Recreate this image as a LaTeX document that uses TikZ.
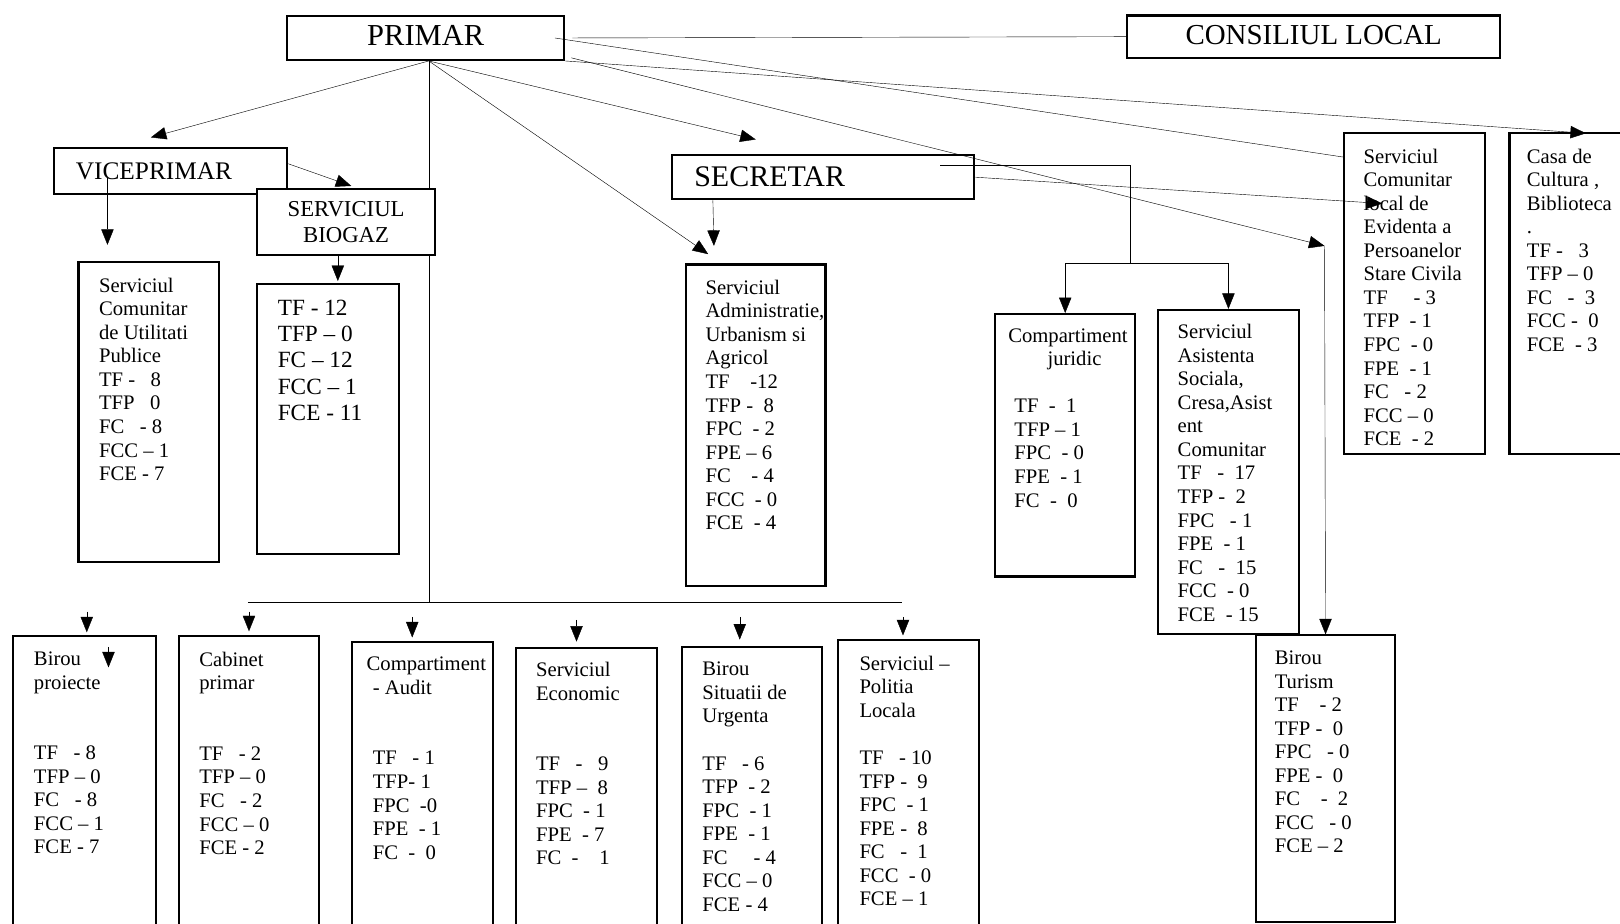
\documentclass[tikz,border=0pt]{standalone}
\usepackage{fontspec}
\setmainfont{Liberation Serif}
\usetikzlibrary{arrows.meta,backgrounds}

\begin{document}
\begin{tikzpicture}[x=1pt,y=-1pt,line width=1.8pt,
    >={Triangle[length=15pt,width=12pt]},
    card/.style={draw,line width=2pt,anchor=north west,inner sep=0pt},
    headbox/.style={card,font=\fontsize{#1}{#1}\selectfont},
    cardtext/.style={anchor=north west,inner sep=0pt,align=left,
      font=\fontsize{20}{22.8}\selectfont}]
  \useasboundingbox (0,0) rectangle (1568,894);
  \clip (0,0) rectangle (1568,894);

  % conducere
  \node[headbox=29.5,minimum width=268pt,minimum height=42.5pt] (primar) at (277,14.5) {\raisebox{5pt}{PRIMAR}};
  \node[headbox=28,minimum width=361pt,minimum height=41pt] (consiliu) at (1090,14) {\raisebox{4pt}{CONSILIUL LOCAL}};
  \node[headbox=24.5,minimum width=226pt,minimum height=45pt] (vice) at (51,142) {\raisebox{-5pt}{VICEPRIMAR}\hspace*{32pt}};
  \node[headbox=29,minimum width=293pt,minimum height=43pt] (secretar) at (649,149) {\raisebox{-10pt}{SECRETAR}\hspace*{103pt}};
  \node[headbox=22,align=center,fill=white,minimum width=172pt,minimum height=64pt,
    font=\fontsize{22}{26}\selectfont] (biogaz) at (248,182) {SERVICIUL\\BIOGAZ};

  % servicii sub viceprimar
  \node[card,minimum width=136pt,minimum height=290pt] (utilitati) at (75,253) {};
  \node[cardtext] (tutilitati) at (95,268) {Serviciul\\Comunitar\\de Utilitati\\Publice\\TF -~~~8\\TFP~~~0\\FC~~~- 8\\FCC – 1\\FCE - 7};
  \node[card,minimum width=137pt,minimum height=261pt] (biodate) at (248,274) {};
  \node[cardtext,font=\fontsize{22.5}{25.4}\selectfont] (tbiodate) at (268,289.5) {TF - 12\\TFP – 0\\FC – 12\\FCC – 1\\FCE - 11};

  % servicii sub secretar
  \node[card,minimum width=135pt,minimum height=311pt] (admin) at (663,255) {};
  \node[cardtext] (tadmin) at (682,270) {Serviciul\\Administratie,\\Urbanism si\\Agricol\\TF~~~~-12\\TFP -~~8\\FPC~~- 2\\FPE – 6\\FC~~~~- 4\\FCC~~- 0\\FCE~~- 4};
  \node[card,minimum width=136pt,minimum height=254pt] (juridic) at (962,303) {};
  \node[cardtext] (tjuridic) at (975,317) {Compartiment\\\hspace*{38pt}juridic\\~\\\hspace*{6pt}TF~~-~~1\\\hspace*{6pt}TFP – 1\\\hspace*{6pt}FPC~~- 0\\\hspace*{6pt}FPE~~- 1\\\hspace*{6pt}FC~~-~~0};
  \node[card,minimum width=136pt,minimum height=314pt] (asistenta) at (1120,299) {};
  \node[cardtext] (tasistenta) at (1139,313) {Serviciul\\Asistenta\\Sociala,\\Cresa,Asist\\ent\\Comunitar\\TF~~~-~~17\\TFP - ~2\\FPC~~~- 1\\FPE~~- 1\\FC~~~-~~15\\FCC~~- 0\\FCE~~- 15};

  % dreapta
  \node[card,minimum width=136pt,minimum height=310pt] (evidenta) at (1300,128) {};
  \node[cardtext] (tevidenta) at (1319,143) {Serviciul\\Comunitar\\local de\\Evidenta a\\Persoanelor\\Stare Civila\\TF~~~~~- 3\\TFP~~- 1\\FPC~~- 0\\FPE~~- 1\\FC~~~- 2\\FCC – 0\\FCE~~- 2};
  \node[card,minimum width=140pt,minimum height=310pt] (casa) at (1460,128) {};
  \node[cardtext] (tcasa) at (1477,143) {Casa de\\Cultura ,\\Biblioteca\\.\\TF -~~~3\\TFP – 0\\FC~~~-~~3\\FCC -~~0\\FCE~~- 3};
  \node[card,minimum width=134pt,minimum height=277pt] (turism) at (1215,614) {};
  \node[cardtext] (tturism) at (1233,629) {Birou\\Turism\\TF~~~~- 2\\TFP -~~0\\FPC~~~- 0\\FPE -~~0\\FC~~~~-~~2\\FCC~~~- 0\\FCE – 2};

  % randul de jos
  \node[card,minimum width=138pt,minimum height=300pt] (proiecte) at (12,615) {};
  \node[cardtext] (tproiecte) at (32,630) {Birou\\proiecte\\~\\~\\TF~~~- 8\\TFP – 0\\FC~~~- 8\\FCC – 1\\FCE - 7};
  \node[card,minimum width=136pt,minimum height=300pt] (cabinet) at (172,615) {};
  \node[cardtext] (tcabinet) at (192,630) {Cabinet\\primar\\~\\~\\TF~~~- 2\\TFP – 0\\FC~~~- 2\\FCC – 0\\FCE - 2};
  \node[card,minimum width=136pt,minimum height=300pt] (audit) at (340,620) {};
  \node[cardtext] (taudit) at (354,635) {Compartiment\\\hspace*{6pt}- Audit\\~\\~\\\hspace*{6pt}TF~~~- 1\\\hspace*{6pt}TFP- 1\\\hspace*{6pt}FPC~~-0\\\hspace*{6pt}FPE~~- 1\\\hspace*{6pt}FC~~-~~0};
  \node[card,minimum width=137pt,minimum height=300pt] (economic) at (498,626) {};
  \node[cardtext] (teconomic) at (518,640) {Serviciul\\Economic\\~\\~\\TF~~~-~~~9\\TFP –~~8\\FPC~~- 1\\FPE~~- 7\\FC~~-~~~~1};
  \node[card,minimum width=136pt,minimum height=300pt] (urgenta) at (659,625) {};
  \node[cardtext] (turgenta) at (679,640) {Birou\\Situatii de\\Urgenta\\~\\TF~~~- 6\\TFP~~- 2\\FPC~~- 1\\FPE~~- 1\\FC~~~~~- 4\\FCC – 0\\FCE - 4};
  \node[card,minimum width=137pt,minimum height=300pt] (politia) at (810,618) {};
  \node[cardtext] (tpolitia) at (831,634) {Serviciul –\\Politia\\Locala\\~\\TF~~~- 10\\TFP -~~9\\FPC~~- 1\\FPE -~~8\\FC~~~-~~1\\FCC~~- 0\\FCE – 1};

  \coordinate (pfoot) at ([xshift=3pt]primar.south);
  \coordinate (tur) at (1282,238);
  \coordinate (split) at (1094,255);
  \coordinate (busl) at (240,583);
  \coordinate (busr) at (873,583);

  \begin{scope}[on background layer]
    \draw ([xshift=7pt]primar.east) to (consiliu.west);
    \draw ([xshift=-10pt]primar.east) to ([yshift=-24pt]evidenta.north west);
    \draw[->] (primar.south east) to ([xshift=75pt,yshift=-1pt]casa.north west);
    \draw[->] ([xshift=6pt,yshift=3pt]primar.south east) to (tur);
    \draw[->] (tur) to (turism.north);
    \draw[->] (pfoot) to ([xshift=-19pt,yshift=9pt]vice.north);
    \draw[->] (pfoot) to ([xshift=-65pt,yshift=14pt]secretar.north);
    \draw[->] (pfoot) to ([xshift=-46pt,yshift=9pt]admin.north);
    \draw (pfoot) to (pfoot |- busl);
    \draw (busl) to (busr);
    \draw[->] ([xshift=-61pt,yshift=-6pt]vice.center) to ([xshift=-40pt,yshift=16pt]utilitati.north);
    \draw[->] ([yshift=7pt]vice.east) to ([xshift=5pt,yshift=2pt]biogaz.north);
    \draw[->] ([xshift=-8pt]biogaz.south) to ([xshift=9.5pt,yshift=2pt]biodate.north);
    \draw[->] ([xshift=41pt]secretar.south west) to ([xshift=-40.5pt,yshift=17pt]admin.north);
    \draw ([xshift=-34pt,yshift=12pt]secretar.east) -| (split);
    \draw[->] (split) -| (juridic.north);
    \draw[->] (split) -| (asistenta.north);
    \draw[->] (secretar.east) to ([xshift=38pt,yshift=-69pt]evidenta.north west);
    \draw[->] ([xshift=2pt,yshift=23pt]proiecte.north) to ([xshift=2pt,yshift=3pt]proiecte.north);
    \draw[->] ([xshift=93pt,yshift=-11pt]proiecte.north west) to ([xshift=93pt,yshift=-31pt]proiecte.north west);
    \draw[->] ([yshift=23pt]cabinet.north) to ([yshift=4pt]cabinet.north);
    \draw[->] ([xshift=-10pt,yshift=23pt]audit.north) to ([xshift=-10pt,yshift=3pt]audit.north);
    \draw[->] ([xshift=-9.5pt,yshift=26pt]economic.north) to ([xshift=-9.5pt,yshift=5pt]economic.north);
    \draw[->] ([xshift=-12pt,yshift=28pt]urgenta.north) to ([xshift=-12pt,yshift=6pt]urgenta.north);
    \draw[->] ([xshift=-5.5pt,yshift=21pt]politia.north) to ([xshift=-5.5pt,yshift=3pt]politia.north);
  \end{scope}
\end{tikzpicture}
\end{document}
